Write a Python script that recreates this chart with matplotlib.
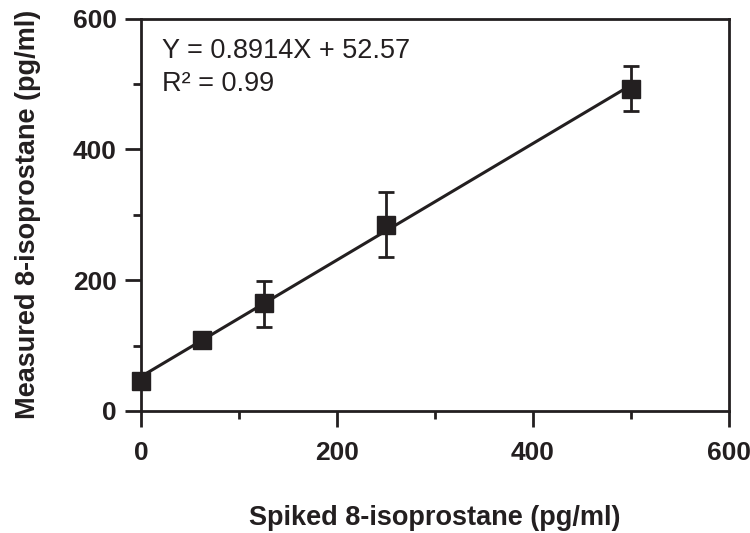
import matplotlib
matplotlib.use("Agg")
import matplotlib.pyplot as plt
import numpy as np
from matplotlib.ticker import MultipleLocator

plt.rcParams['font.family'] = ['Liberation Sans', 'DejaVu Sans']

spiked = [0, 62.5, 125, 250, 500]
measured = [46, 109, 165, 285, 492]
err_low = [0, 0, 36, 49, 33]
err_high = [0, 0, 34, 50, 35]
slope = 0.8914
intercept = 52.57

ink = '#231f20'
fig = plt.figure(figsize=(7.5, 5.33), dpi=100)
ax = fig.add_axes([0.188, 0.229, 0.784, 0.736])

fit_x = np.array([spiked[0], spiked[-1]])
ax.plot(fit_x, slope * fit_x + intercept, color=ink, lw=2.2, zorder=2)
ax.errorbar(spiked, measured, yerr=[err_low, err_high], fmt='none',
            ecolor=ink, elinewidth=2.0, capsize=6, capthick=2.0, zorder=3)
ax.plot(spiked, measured, 's', color=ink, markersize=13, zorder=4)

ax.set_xlim(0, 600)
ax.set_ylim(0, 600)
ax.xaxis.set_major_locator(MultipleLocator(200))
ax.xaxis.set_minor_locator(MultipleLocator(100))
ax.yaxis.set_major_locator(MultipleLocator(200))
ax.yaxis.set_minor_locator(MultipleLocator(100))
ax.tick_params(which='major', direction='out', length=11.5, width=2, color=ink,
               labelsize=19, labelcolor=ink)
ax.tick_params(axis='x', which='major', pad=10)
ax.tick_params(axis='y', which='major', pad=6)
ax.tick_params(which='minor', direction='out', length=6, width=2, color=ink)
for lab in ax.get_xticklabels() + ax.get_yticklabels():
    lab.set_fontweight('bold')
for s in ax.spines.values():
    s.set_linewidth(2)
    s.set_color(ink)
for art in ax.lines + ax.collections:
    art.set_clip_on(False)

ax.set_xlabel('Spiked 8-isoprostane (pg/ml)', fontsize=19.5, fontweight='bold',
              labelpad=29, color=ink)
ax.set_ylabel('Measured 8-isoprostane (pg/ml)', fontsize=19.5, fontweight='bold',
              labelpad=23, color=ink)

ax.text(0.036, 0.9005, f'Y = {slope}X + {intercept}', transform=ax.transAxes,
        fontsize=19.5, va='baseline', ha='left', color=ink)
ax.text(0.036, 0.816, 'R\u00b2 = 0.99', transform=ax.transAxes,
        fontsize=19.5, va='baseline', ha='left', color=ink)

fig.savefig('out.png', dpi=100)
